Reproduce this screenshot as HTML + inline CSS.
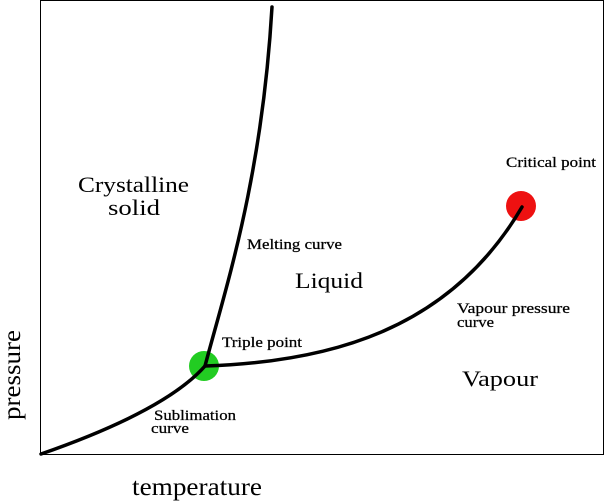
<!DOCTYPE html>
<html><head><style>
html,body{margin:0;padding:0;background:#fff;}
svg{display:block;}
text{font-family:"Liberation Serif",serif;fill:#000;}
.s{font-size:14.5px;stroke:#000;stroke-width:0.25px;}
</style></head><body>
<svg width="605" height="502" viewBox="0 0 605 502" xmlns="http://www.w3.org/2000/svg">
<rect x="40.5" y="0.5" width="563" height="454" fill="none" stroke="#000" stroke-width="1"/>
<circle cx="204" cy="366" r="15" fill="#22cc22"/>
<circle cx="521" cy="206" r="15" fill="#ee1111"/>
<g fill="none" stroke="#000" stroke-width="3.5" stroke-linecap="round">
<path d="M41,454 C110,430 175,400 205,366"/>
<path d="M205,366 C225,290 262,180 272,7"/>
<path d="M205,366 C330,362 450,330 522,207"/>
</g>
<text x="78" y="192" font-size="22" textLength="111" lengthAdjust="spacingAndGlyphs">Crystalline</text>
<text x="108" y="215" font-size="22" textLength="52" lengthAdjust="spacingAndGlyphs">solid</text>
<text class="s" x="247" y="249" textLength="95" lengthAdjust="spacingAndGlyphs">Melting curve</text>
<text x="295" y="288" font-size="22" textLength="68" lengthAdjust="spacingAndGlyphs">Liquid</text>
<text class="s" x="222" y="347" textLength="80" lengthAdjust="spacingAndGlyphs">Triple point</text>
<text class="s" x="506" y="167" textLength="90" lengthAdjust="spacingAndGlyphs">Critical point</text>
<text class="s" x="457" y="313" textLength="113" lengthAdjust="spacingAndGlyphs">Vapour pressure</text>
<text class="s" x="457" y="327" textLength="37" lengthAdjust="spacingAndGlyphs">curve</text>
<text x="462" y="386" font-size="22" textLength="76" lengthAdjust="spacingAndGlyphs">Vapour</text>
<text class="s" x="154" y="420" textLength="82" lengthAdjust="spacingAndGlyphs">Sublimation</text>
<text class="s" x="151" y="433" textLength="38" lengthAdjust="spacingAndGlyphs">curve</text>
<text x="132" y="495" font-size="25" textLength="130" lengthAdjust="spacingAndGlyphs">temperature</text>
<text transform="translate(20,420) rotate(-90)" font-size="25" textLength="90" lengthAdjust="spacingAndGlyphs">pressure</text>
</svg>
</body></html>
